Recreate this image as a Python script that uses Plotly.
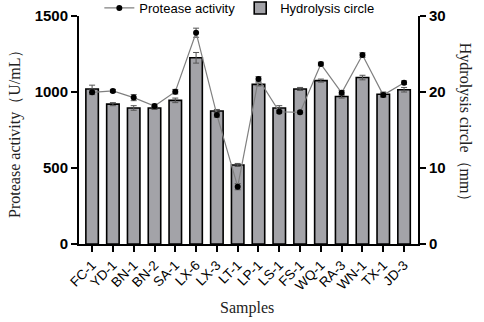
import plotly.graph_objects as go

samples = ["FC-1", "YD-1", "BN-1", "BN-2", "SA-1", "LX-6", "LX-3", "LT-1",
           "LP-1", "LS-1", "FS-1", "WQ-1", "RA-3", "WN-1", "TX-1", "JD-3"]
protease = [998, 1007, 963, 908, 1002, 1390, 849, 377,
            1086, 870, 866, 1184, 995, 1243, 980, 1061]
protease_err = [15, 10, 20, 12, 15, 30, 15, 20, 15, 10, 10, 12, 15, 15, 15, 12]
hydrolysis = [20.4, 18.4, 17.9, 17.9, 18.9, 24.5, 17.5, 10.4,
              21.0, 17.9, 20.4, 21.5, 19.4, 21.9, 19.7, 20.3]
hydrolysis_err = [0.5, 0.2, 0.3, 0.2, 0.3, 0.7, 0.2, 0.2,
                  0.2, 0.3, 0.2, 0.2, 0.2, 0.3, 0.3, 0.3]

fig = go.Figure()

fig.add_trace(go.Bar(
    x=samples, y=hydrolysis, yaxis="y", name="Hydrolysis circle",
    marker=dict(color="#a3a3a8", line=dict(color="black", width=1.6)),
    width=0.6, legendrank=2,
    error_y=dict(type="data", array=hydrolysis_err, visible=True,
                 color="#555555", thickness=1, width=3),
))

fig.add_trace(go.Scatter(
    x=samples, y=protease, yaxis="y2", name="Protease activity",
    mode="lines+markers",
    line=dict(color="#808080", width=1.2),
    marker=dict(color="black", size=6),
    legendrank=1,
    error_y=dict(type="data", array=protease_err, visible=True,
                 color="#555555", thickness=1, width=3),
))

fig.update_layout(
    width=484, height=322,
    margin=dict(l=79, r=66, t=16, b=78, autoexpand=False),
    paper_bgcolor="white", plot_bgcolor="white",
    showlegend=True,
    legend=dict(orientation="h", x=0.06, y=1.035, xanchor="left", yanchor="middle",
                font=dict(family="Arial, Liberation Sans", size=13, color="black"),
                bgcolor="rgba(0,0,0,0)", itemwidth=30, tracegroupgap=0),
    xaxis=dict(range=[-0.63, 15.67], showline=True, linecolor="black", linewidth=2,
               ticks="outside", ticklen=6, tickwidth=1.5, tickcolor="black",
               tickangle=-45, showgrid=False,
               tickfont=dict(family="Arial, Liberation Sans", size=13.5, color="black")),
    yaxis=dict(side="right", range=[0, 30], tickvals=[0, 10, 20, 30],
               showline=True, linecolor="black", linewidth=2,
               ticks="outside", ticklen=6, tickwidth=2, tickcolor="black",
               showgrid=False, zeroline=False,
               tickfont=dict(family="Arial, Liberation Sans", size=15, color="black",
                             weight="bold")),
    yaxis2=dict(side="left", overlaying="y", range=[0, 1500], tickvals=[0, 500, 1000, 1500],
                showline=True, linecolor="black", linewidth=2,
                ticks="outside", ticklen=6, tickwidth=2, tickcolor="black",
                showgrid=False, zeroline=False,
                tickfont=dict(family="Arial, Liberation Sans", size=15, color="black",
                              weight="bold")),
    annotations=[
        dict(text="Protease activity（U/mL）", textangle=-90, xref="paper", yref="paper",
             x=-0.189, y=0.5, showarrow=False, xanchor="center", yanchor="middle",
             font=dict(family="Liberation Serif, Times New Roman", size=16, color="#222")),
        dict(text="Hydrolysis circle（mm）", textangle=90, xref="paper", yref="paper",
             x=1.139, y=0.518, showarrow=False, xanchor="center", yanchor="middle",
             font=dict(family="Liberation Serif, Times New Roman", size=16, color="#222")),
        dict(text="Samples", xref="paper", yref="paper",
             x=0.496, y=-0.28, showarrow=False, xanchor="center", yanchor="middle",
             font=dict(family="Liberation Serif, Times New Roman", size=16, color="#222")),
    ],
)

fig.write_html("out.html",
               config={"displayModeBar": False},
               post_script="document.body.style.margin='0';document.body.style.padding='0';")
